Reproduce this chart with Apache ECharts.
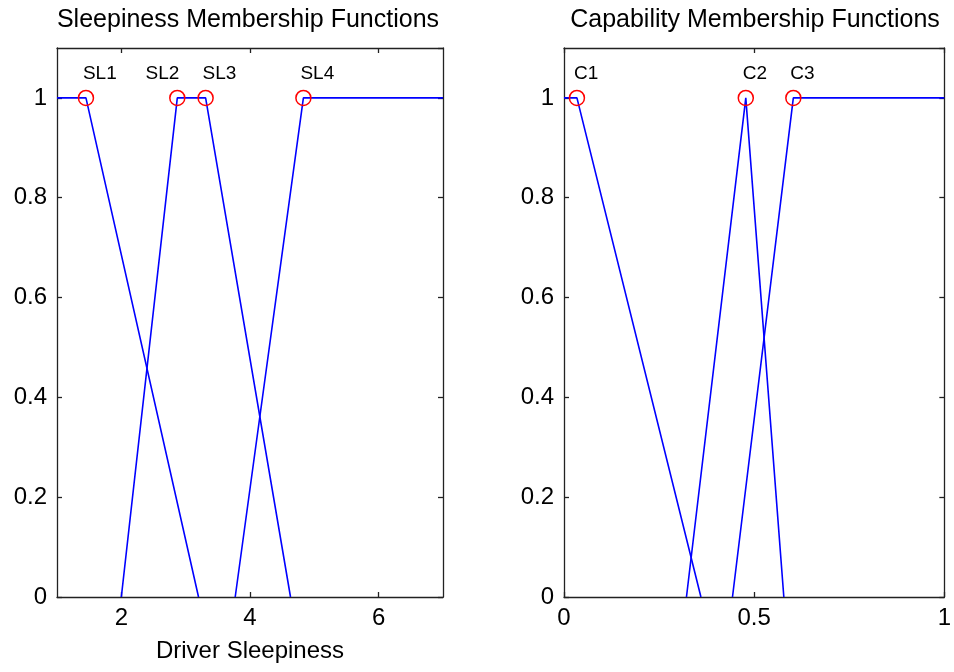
<!DOCTYPE html>
<html>
<head>
<meta charset="utf-8">
<script src="https://cdn.jsdelivr.net/npm/echarts@6/dist/echarts.min.js"></script>
<style>
  html, body { margin: 0; padding: 0; background: #fff; }
  #chart { width: 954px; height: 672px; }
</style>
</head>
<body>
<div id="chart"></div>
<script>
// Membership function breakpoints, [x, membership]
const sleepSL1 = [[1, 1], [1.45, 1], [3.2, 0]];
const sleepSL23 = [[2.0, 0], [2.87, 1], [3.31, 1], [4.63, 0]];
const sleepSL4 = [[3.77, 0], [4.83, 1], [7, 1]];

const capC1 = [[0, 1], [0.034, 1], [0.36, 0]];
const capC2 = [[0.322, 0], [0.478, 1], [0.578, 0]];
const capC3 = [[0.443, 0], [0.603, 1], [1, 1]];

// Named key points (circle markers)
const sleepPointNames = ['SL1', 'SL2', 'SL3', 'SL4'];
const sleepPointX = [1.45, 2.87, 3.31, 4.83];
const capPointNames = ['C1', 'C2', 'C3'];
const capPointX = [0.034, 0.478, 0.603];

// Tick values
const sleepXTicks = [2, 4, 6];
const yTicks = [0, 0.2, 0.4, 0.6, 0.8, 1];

const FONT = "'Liberation Sans', Arial, sans-serif";
const INK = '#000';
const AXIS_COLOR = '#222';

function yLabel(v) {
  const r = Math.round(v * 10) / 10;
  return yTicks.some(t => Math.abs(t - r) < 1e-9) && Math.abs(v - r) < 1e-9 ? String(r) : '';
}

function baseAxis(extra) {
  return Object.assign({
    axisLine: { show: true, onZero: false, lineStyle: { color: AXIS_COLOR, width: 1.3 } },
    axisTick: { show: true, inside: true, length: 5, lineStyle: { color: AXIS_COLOR, width: 1.3 } },
    splitLine: { show: false },
    axisLabel: { show: false }
  }, extra);
}

function labelSet(names, xs, alignments) {
  return names.map((n, i) => ({
    name: n,
    value: [xs[i], 1],
    label: {
      align: alignments[i],
      offset: alignments[i] === 'right' ? [2, 0] : [-3, 0]
    }
  }));
}

const lineStyle = { color: '#0000ff', width: 1.6 };

function mfSeries(data, gi) {
  return {
    type: 'line', xAxisIndex: gi, yAxisIndex: gi, data: data,
    showSymbol: false, symbol: 'none', lineStyle: lineStyle, clip: true,
    z: 3, silent: true
  };
}

function markerSeries(data, gi) {
  return {
    type: 'scatter', xAxisIndex: gi, yAxisIndex: gi, data: data,
    symbol: 'circle', symbolSize: 15,
    itemStyle: { color: 'rgba(0,0,0,0)', borderColor: '#ff0000', borderWidth: 1.5, opacity: 1 },
    label: {
      show: true, position: 'top', distance: 6, opacity: 1,
      formatter: p => p.name,
      fontFamily: FONT, fontSize: 19, color: INK
    },
    z: 4, silent: true
  };
}

const chart = echarts.init(document.getElementById('chart'), null, { renderer: 'canvas' });

chart.setOption({
  animation: false,
  backgroundColor: '#fff',
  textStyle: { fontFamily: FONT },
  title: [
    { text: 'Sleepiness Membership Functions', left: 248, top: 8, padding: 0, textAlign: 'center',
      textStyle: { fontFamily: FONT, fontSize: 25, fontWeight: 'normal', color: INK } },
    { text: 'Capability Membership Functions', left: 755, top: 8, padding: 0, textAlign: 'center',
      textStyle: { fontFamily: FONT, fontSize: 25, fontWeight: 'normal', color: INK } }
  ],
  grid: [
    { left: 57, right: 511, top: 48, bottom: 75, containLabel: false },
    { left: 564, right: 4, top: 48, bottom: 75, containLabel: false }
  ],
  xAxis: [
    baseAxis({
      type: 'value', gridIndex: 0, position: 'bottom', min: 1, max: 7,
      name: 'Driver Sleepiness', nameLocation: 'middle', nameGap: 42,
      nameTextStyle: { fontFamily: FONT, fontSize: 24, color: INK },
      axisTick: { show: true, inside: true, length: 5, customValues: sleepXTicks, lineStyle: { color: AXIS_COLOR, width: 1.3 } },
      axisLabel: { show: true, customValues: sleepXTicks, margin: 9, fontFamily: FONT, fontSize: 24, color: INK }
    }),
    baseAxis({
      type: 'value', gridIndex: 1, position: 'bottom', min: 0, max: 1, interval: 0.5,
      axisLabel: { show: true, margin: 9, fontFamily: FONT, fontSize: 24, color: INK,
        formatter: v => String(Math.round(v * 10) / 10) }
    }),
    baseAxis({
      type: 'value', gridIndex: 0, position: 'top', min: 1, max: 7,
      axisTick: { show: true, inside: true, length: 5, customValues: sleepXTicks, lineStyle: { color: AXIS_COLOR, width: 1.3 } },
      axisLabel: { show: false, customValues: sleepXTicks }
    }),
    baseAxis({
      type: 'value', gridIndex: 1, position: 'top', min: 0, max: 1, interval: 0.5
    })
  ],
  yAxis: [
    baseAxis({
      type: 'value', gridIndex: 0, position: 'left', min: 0, max: 1.1, interval: 0.2,
      axisLabel: { show: true, margin: 10, showMaxLabel: false, fontFamily: FONT, fontSize: 24, color: INK, formatter: yLabel }
    }),
    baseAxis({
      type: 'value', gridIndex: 1, position: 'left', min: 0, max: 1.1, interval: 0.2,
      axisLabel: { show: true, margin: 10, showMaxLabel: false, fontFamily: FONT, fontSize: 24, color: INK, formatter: yLabel }
    }),
    baseAxis({ type: 'value', gridIndex: 0, position: 'right', min: 0, max: 1.1, interval: 0.2 }),
    baseAxis({ type: 'value', gridIndex: 1, position: 'right', min: 0, max: 1.1, interval: 0.2 })
  ],
  series: [
    mfSeries(sleepSL1, 0),
    mfSeries(sleepSL23, 0),
    mfSeries(sleepSL4, 0),
    markerSeries(labelSet(sleepPointNames, sleepPointX, ['left', 'right', 'left', 'left']), 0),
    mfSeries(capC1, 1),
    mfSeries(capC2, 1),
    mfSeries(capC3, 1),
    markerSeries(labelSet(capPointNames, capPointX, ['left', 'left', 'left']), 1)
  ]
});
</script>
</body>
</html>
